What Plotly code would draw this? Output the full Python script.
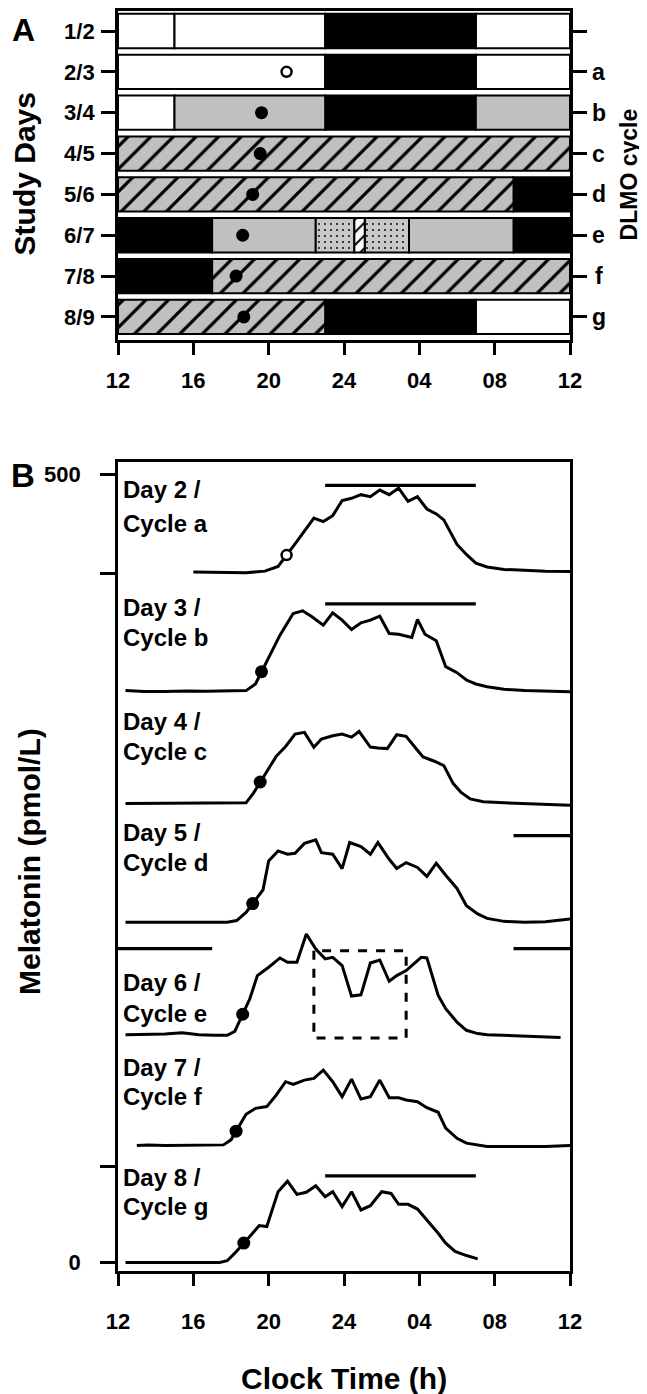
import numpy as np
import plotly.graph_objects as go

FONT = "Liberation Sans, Arial, sans-serif"

# ---------------- Panel A data ----------------
row_labels = ["1/2", "2/3", "3/4", "4/5", "5/6", "6/7", "7/8", "8/9"]
cycle_labels = ["", "a", "b", "c", "d", "e", "f", "g"]
hour_ticks = [12, 16, 20, 24, 28, 32, 36]
hour_ticktext = ["12", "16", "20", "24", "04", "08", "12"]

seg_row = [0, 0, 0, 0,
           1, 1, 1,
           2, 2, 2, 2,
           3,
           4, 4,
           5, 5, 5, 5, 5, 5, 5,
           6, 6,
           7, 7, 7]
seg_start = [12, 15, 23, 31,
             12, 23, 31,
             12, 15, 23, 31,
             12,
             12, 33,
             12, 17, 22.5, 24.55, 25.1, 27.45, 33,
             12, 17,
             12, 23, 31]
seg_end = [15, 23, 31, 36,
           23, 31, 36,
           15, 23, 31, 36,
           36,
           33, 36,
           17, 22.5, 24.55, 25.1, 27.45, 33, 36,
           17, 36,
           23, 31, 36]
seg_kind = ["white", "white", "black", "white",
            "white", "black", "white",
            "white", "gray", "black", "gray",
            "hatch",
            "hatch", "black",
            "black", "gray", "dots", "whitehatch", "dots", "gray", "black",
            "black", "hatch",
            "hatch", "black", "white"]

dlmo_hour = [20.95, 19.62, 19.55, 19.15, 18.62, 18.27, 18.68]

# ---------------- Panel B data ----------------
d2_t = [16.0, 17.6, 18.8, 19.8, 20.5, 21.5, 22.4, 22.9, 23.4, 23.9, 24.4, 24.9, 25.4, 25.9, 26.4,
        26.9, 27.4, 27.9, 28.4, 28.9, 29.3, 30.0, 30.5, 31.0, 31.6, 32.5, 33.6, 34.7, 36.0]
d2_v = [0, -0.4, -0.4, 0.6, 3.6, 19.5, 34.3, 32.0, 35.8, 45.3, 46.8, 49.1, 47.8, 52.0, 49.1,
        53.3, 44.9, 47.8, 40.0, 36.9, 33.1, 17.5, 11.2, 5.7, 3.2, 1.7, 1.1, 0.6, 0.4]
d3_t = [12.4, 13.4, 14.5, 15.6, 16.7, 17.8, 18.8, 19.3, 20.1, 20.6, 21.3, 21.8, 22.3, 22.9, 23.4,
        23.9, 24.4, 24.9, 25.4, 25.9, 26.4, 26.9, 27.6, 27.9, 28.3, 28.9, 29.4, 30.0, 30.5, 31.0,
        31.6, 32.5, 33.6, 34.7, 36.0]
d3_v = [0, -0.6, -0.6, -0.2, -0.4, -0.4, 0, 4.2, 23.6, 35.2, 48.9, 50.6, 46.8, 41.5, 49.3,
        44.7, 38.8, 43.0, 44.7, 47.2, 36.2, 35.8, 33.7, 45.1, 35.8, 31.6, 15.2, 11.4, 6.7, 4.2,
        2.5, 0.8, 0, -0.4, -0.8]
d4_t = [12.4, 13.4, 14.5, 15.6, 16.7, 17.8, 18.8, 19.2, 20.0, 20.4, 20.9, 21.4, 21.9, 22.4, 22.8,
        23.4, 23.9, 24.4, 24.8, 25.4, 25.8, 26.3, 26.8, 27.3, 27.8, 28.2, 28.8, 29.3, 29.8, 30.2,
        30.7, 31.4, 32.5, 33.6, 34.7, 36.0]
d4_v = [0, 0, 0, 0, 0, 0, 0.4, 6.7, 22.5, 29.9, 36.2, 44.0, 45.1, 35.6, 40.9,
        43.0, 44.0, 42.1, 45.7, 35.8, 35.2, 34.8, 43.6, 42.6, 35.2, 29.5, 26.8, 24.0, 12.6, 7.2,
        2.9, 1.1, 0.4, -0.2, -0.6, -1.1]
d5_t = [12.4, 13.4, 14.5, 15.6, 16.7, 17.8, 18.3, 18.8, 19.7, 20.0, 20.5, 21.0, 21.4, 21.9, 22.5,
        22.8, 23.4, 23.9, 24.3, 24.9, 25.4, 25.8, 26.4, 26.8, 27.3, 27.9, 28.4, 28.9, 29.4, 30.0,
        30.5, 31.1, 31.6, 32.5, 33.6, 34.7, 36.0]
d5_v = [0, 0, 0, 0, 0, 0, 1.1, 6.3, 20.6, 39.0, 45.3, 43.2, 43.8, 50.1, 52.3,
        44.2, 43.2, 34.1, 50.6, 48.0, 43.2, 50.6, 40.0, 34.1, 37.9, 34.8, 29.1, 37.5, 29.9, 21.5,
        10.5, 5.3, 2.5, 0.6, 0, 0.4, 2.1]
d6_t = [12.4, 13.4, 14.5, 15.4, 16.3, 17.1, 17.8, 18.2, 19.0, 19.4, 20.0, 20.6, 21.0, 21.5, 22.0,
        22.5, 23.0, 23.4, 23.9, 24.4, 24.9, 25.4, 25.9, 26.4, 26.8, 27.3, 27.8, 28.1, 28.4, 29.0,
        29.4, 30.0, 30.5, 31.1, 31.6, 32.5, 33.6, 34.7, 35.5]
d6_v = [0.4, 0.6, 0.8, 1.7, 0.4, 0, 0, 2.5, 23.2, 37.9, 43.2, 49.1, 46.4, 46.4, 64.3,
        54.8, 48.5, 49.5, 44.2, 24.9, 25.7, 45.9, 47.8, 34.3, 37.9, 41.1, 46.4, 49.5, 49.1, 25.3,
        16.9, 8.4, 3.2, 1.1, 0.4, 0, -0.4, -0.8, -1.3]
d7_t = [13.0, 13.6, 14.5, 15.6, 16.7, 17.6, 18.0, 18.8, 19.3, 19.9, 20.4, 20.9, 21.3, 21.9, 22.4,
        22.9, 23.4, 23.9, 24.4, 24.9, 25.4, 25.9, 26.4, 26.9, 27.3, 27.9, 28.4, 29.0, 29.4, 30.0,
        30.5, 31.1, 31.6, 32.5, 33.6, 34.7, 36.0]
d7_v = [0, 0.4, 0, 0, 0, 0.4, 3.6, 19.8, 23.6, 24.7, 32.0, 40.5, 38.8, 41.5, 42.6,
        47.8, 40.5, 31.0, 42.1, 29.5, 31.0, 41.5, 30.3, 30.3, 28.9, 27.8, 24.0, 21.1, 11.0, 4.6,
        1.5, 0.4, -0.6, -0.6, -0.6, -0.6, 0]
d8_t = [12.4, 13.4, 14.5, 15.6, 16.7, 17.4, 17.8, 18.2, 19.1, 19.5, 19.9, 20.5, 21.0, 21.5, 22.0,
        22.5, 23.0, 23.4, 23.9, 24.4, 24.9, 25.4, 26.0, 26.5, 26.9, 27.4, 27.9, 28.4, 29.0, 29.4,
        29.9, 30.5, 31.1]
d8_v = [0, 0, 0, 0, 0, 0, 1.1, 5.9, 17.9, 23.4, 22.8, 44.9, 51.6, 43.2, 44.5,
        48.7, 41.7, 44.9, 35.4, 44.9, 33.3, 36.0, 44.9, 43.8, 36.9, 36.9, 33.9, 27.0, 18.5, 12.2,
        7.0, 4.4, 2.3]

day_names = ["Day 2 /", "Day 3 /", "Day 4 /", "Day 5 /", "Day 6 /", "Day 7 /", "Day 8 /"]
cycle_names = ["Cycle a", "Cycle b", "Cycle c", "Cycle d", "Cycle e", "Cycle f", "Cycle g"]
day_times = [d2_t, d3_t, d4_t, d5_t, d6_t, d7_t, d8_t]
day_values = [d2_v, d3_v, d4_v, d5_v, d6_v, d7_v, d8_v]
day_offset = [438.0, 362.8, 291.2, 215.8, 144.1, 74.2, 0.0]
label1_rel = [52.3, 52.9, 52.3, 56.7, 33.5, 49.8, 54.2]
label2_rel = [31.0, 34.0, 32.7, 37.8, 13.9, 30.8, 35.2]

bar_day = [0, 1, 3, 4, 4, 6]
bar_start = [23, 23, 33, 12, 33, 23]
bar_end = [31, 31, 36, 17, 36, 31]
bar_level = 55.0

box_t0, box_t1 = 22.4, 27.3
box_bottom_rel, box_top_rel = -1.7, 53.7

y_ticks_b = [0, 61, 437, 500]
y_ticktext_b = ["0", "", "", "500"]

fig = go.Figure()

styles = {
    "white": dict(color="white"),
    "black": dict(color="black"),
    "gray": dict(color="#c0c0c0"),
    "hatch": dict(color="#c0c0c0",
                  pattern=dict(shape="/", bgcolor="#c0c0c0", fgcolor="black",
                               size=16, solidity=0.2, fillmode="replace")),
    "dots": dict(color="#c8c8c8",
                 pattern=dict(shape=".", bgcolor="#c8c8c8", fgcolor="black",
                              size=6, solidity=0.08, fillmode="replace")),
    "whitehatch": dict(color="white",
                       pattern=dict(shape="/", bgcolor="white", fgcolor="black",
                                    size=9, solidity=0.22, fillmode="replace")),
}

for kind, st in styles.items():
    idx = [i for i, k in enumerate(seg_kind) if k == kind]
    if not idx:
        continue
    marker = dict(st)
    marker["line"] = dict(color="black", width=2)
    fig.add_trace(go.Bar(
        orientation="h",
        y=[seg_row[i] for i in idx],
        base=[seg_start[i] for i in idx],
        x=[seg_end[i] - seg_start[i] for i in idx],
        width=0.84, marker=marker, xaxis="x", yaxis="y",
        showlegend=False, hoverinfo="skip"))

fig.add_trace(go.Scatter(
    x=dlmo_hour[1:], y=list(range(2, 8)), mode="markers",
    marker=dict(symbol="circle", size=13, color="black"),
    xaxis="x", yaxis="y", showlegend=False, hoverinfo="skip"))
fig.add_trace(go.Scatter(
    x=dlmo_hour[:1], y=[1], mode="markers",
    marker=dict(symbol="circle", size=10, color="white", line=dict(color="black", width=2.5)),
    xaxis="x", yaxis="y", showlegend=False, hoverinfo="skip"))

for i in range(7):
    t = np.array(day_times[i])
    v = np.array(day_values[i]) + day_offset[i]
    fig.add_trace(go.Scatter(
        x=t, y=v, mode="lines", line=dict(color="black", width=3),
        xaxis="x2", yaxis="y2", showlegend=False, hoverinfo="skip"))
    yd = np.interp(dlmo_hour[i], t, v)
    if i == 0:
        mk = dict(symbol="circle", size=10, color="white", line=dict(color="black", width=2.5))
    else:
        mk = dict(symbol="circle", size=13, color="black")
    fig.add_trace(go.Scatter(
        x=[dlmo_hour[i]], y=[yd], mode="markers", marker=mk,
        xaxis="x2", yaxis="y2", showlegend=False, hoverinfo="skip"))

for d, s, e in zip(bar_day, bar_start, bar_end):
    lvl = day_offset[d] + bar_level
    fig.add_trace(go.Scatter(
        x=[s, e], y=[lvl, lvl], mode="lines", line=dict(color="black", width=3.2),
        xaxis="x2", yaxis="y2", showlegend=False, hoverinfo="skip"))

b0 = day_offset[4] + box_bottom_rel
b1 = day_offset[4] + box_top_rel
fig.add_trace(go.Scatter(
    x=[box_t0, box_t0, box_t1, box_t1, box_t0],
    y=[b1, b0, b0, b1, b1], mode="lines",
    line=dict(color="black", width=3, dash="dash"),
    xaxis="x2", yaxis="y2", showlegend=False, hoverinfo="skip"))

tickfont = dict(family=FONT, size=22, color="black", weight="bold")
common_x = dict(range=[12, 36], tickmode="array", tickvals=hour_ticks, ticktext=hour_ticktext,
                ticks="outside", ticklen=12, tickwidth=2.8, tickcolor="black",
                showline=True, linewidth=2.8, linecolor="black", mirror=True,
                showgrid=False, zeroline=False, tickfont=tickfont)

annotations = []
labfont = dict(family=FONT, size=24, color="black", weight="bold")
for i in range(7):
    annotations.append(dict(x=12.0, y=day_offset[i] + label1_rel[i], xref="x2", yref="y2", xshift=3,
                            text=day_names[i], showarrow=False, xanchor="left", yanchor="middle",
                            font=labfont))
    annotations.append(dict(x=12.0, y=day_offset[i] + label2_rel[i], xref="x2", yref="y2", xshift=3,
                            text=cycle_names[i], showarrow=False, xanchor="left", yanchor="middle",
                            font=labfont))
for r, lab in enumerate(cycle_labels):
    if lab:
        annotations.append(dict(x=1.064, y=r, xref="paper", yref="y", text=lab, showarrow=False,
                                xanchor="center", yanchor="middle",
                                font=dict(family=FONT, size=23, color="black", weight="bold")))

H = 1394.0
def py(p):
    return 1 - p / H
def px(p):
    return (p - 110) / 452.0

titlefont = dict(family=FONT, size=30, color="black", weight="bold")
annotations += [
    dict(x=px(16), y=py(166), xref="paper", yref="paper", text="Study Days", textangle=-90,
         showarrow=False, xanchor="center", yanchor="middle", font=titlefont),
    dict(x=px(621), y=py(166), xref="paper", yref="paper", text="DLMO cycle", textangle=-90,
         showarrow=False, xanchor="center", yanchor="middle",
         font=dict(family=FONT, size=23, color="black", weight="bold")),
    dict(x=px(22), y=py(856), xref="paper", yref="paper", text="Melatonin (pmol/L)", textangle=-90,
         showarrow=False, xanchor="center", yanchor="middle", font=titlefont),
    dict(x=px(336), y=py(1374), xref="paper", yref="paper", text="Clock Time (h)",
         showarrow=False, xanchor="center", yanchor="middle", font=titlefont),
    dict(x=px(15), y=py(21), xref="paper", yref="paper", text="A",
         showarrow=False, xanchor="center", yanchor="middle",
         font=dict(family=FONT, size=32, color="black", weight="bold")),
    dict(x=px(15), y=py(468), xref="paper", yref="paper", text="B",
         showarrow=False, xanchor="center", yanchor="middle",
         font=dict(family=FONT, size=33, color="black", weight="bold")),
]

fig.update_layout(
    width=647, height=1394,
    margin=dict(l=110, r=85, t=0, b=0),
    plot_bgcolor="white", paper_bgcolor="white",
    barmode="overlay", showlegend=False,
    xaxis=dict(common_x, domain=[0, 1], anchor="y", ticklabelstandoff=7),
    yaxis=dict(domain=[py(332), py(2)], range=[7.56, -0.49], tickmode="array",
               tickvals=list(range(8)), ticktext=row_labels,
               ticks="outside", ticklen=14, tickwidth=2.8, tickcolor="black",
               showline=True, linewidth=2.8, linecolor="black", mirror="ticks",
               showgrid=False, zeroline=False, tickfont=tickfont, ticklabelstandoff=2,
               anchor="x"),
    xaxis2=dict(common_x, domain=[0, 1], anchor="y2", ticklabelstandoff=16),
    yaxis2=dict(domain=[py(1267), py(455)], range=[-5.7, 507.6], tickmode="array",
                tickvals=y_ticks_b, ticktext=y_ticktext_b,
                ticks="outside", ticklen=15, tickwidth=2.8, tickcolor="black",
                showline=True, linewidth=2.8, linecolor="black", mirror=True,
                showgrid=False, zeroline=False, tickfont=tickfont, ticklabelstandoff=15,
                anchor="x2"),
    annotations=annotations,
)

fig.write_html("out.html")
